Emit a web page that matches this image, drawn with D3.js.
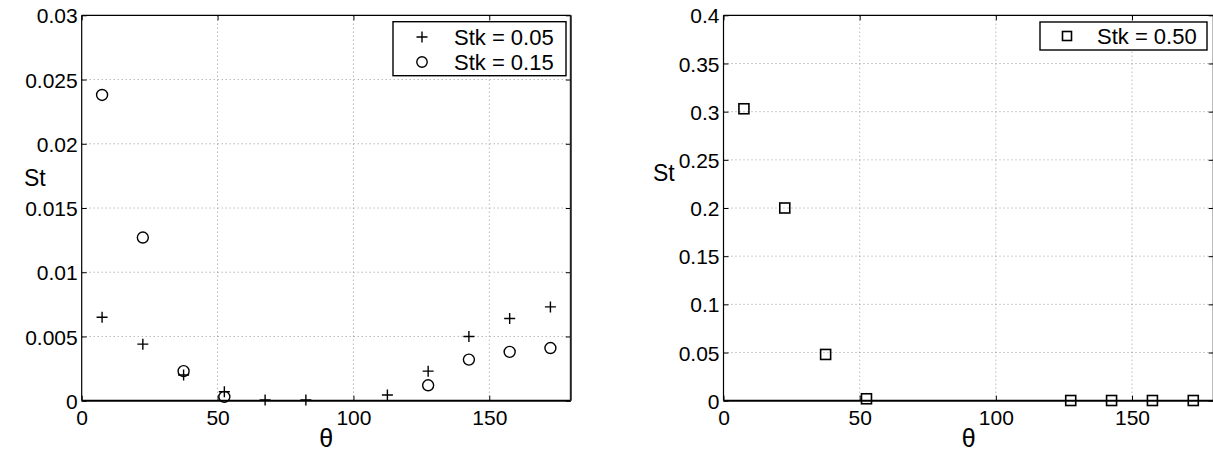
<!DOCTYPE html>
<html>
<head>
<meta charset="utf-8">
<script src="https://cdn.jsdelivr.net/npm/d3@7"></script>
<style>
  html, body { margin: 0; padding: 0; background: #fff; }
  svg { display: block; }
  text { font-family: "Liberation Sans", Arial, Helvetica, sans-serif; fill: #000; }
</style>
</head>
<body>
<svg id="fig" width="1213" height="453"></svg>
<script>
// Bin centres of the angular position (degrees)
const theta = [7.5, 22.5, 37.5, 52.5, 67.5, 82.5, 112.5, 127.5, 142.5, 157.5, 172.5];

// Stanton number, Stk = 0.05 (plus markers)
const stk005 = [0.0065, 0.0044, 0.0020, 0.0007, 0.00005, 0.00005, 0.00044, 0.0023, 0.0050, 0.0064, 0.0073];

// Stanton number, Stk = 0.15 (circle markers)
const theta015 = [7.5, 22.5, 37.5, 52.5, 127.5, 142.5, 157.5, 172.5];
const stk015 = [0.0238, 0.0127, 0.0023, 0.0003, 0.0012, 0.0032, 0.0038, 0.0041];

// Stanton number, Stk = 0.50 (square markers)
const theta050 = [7.5, 22.5, 37.5, 52.5, 127.5, 142.5, 157.5, 172.5];
const stk050 = [0.303, 0.200, 0.048, 0.002, 0.0002, 0.0002, 0.0002, 0.0002];

const xTicks = [0, 50, 100, 150];
const yTicksLeft = [0, 0.005, 0.01, 0.015, 0.02, 0.025, 0.03];
const yTicksRight = [0, 0.05, 0.1, 0.15, 0.2, 0.25, 0.3, 0.35, 0.4];
const yTickLabelsLeft = ["0", "0.005", "0.01", "0.015", "0.02", "0.025", "0.03"];
const yTickLabelsRight = ["0", "0.05", "0.1", "0.15", "0.2", "0.25", "0.3", "0.35", "0.4"];

const svg = d3.select("#fig");
const FONT = 21;

function panel(opts) {
  const x = d3.scaleLinear().domain([0, 180]).range([opts.left, opts.left + opts.width]);
  const y = d3.scaleLinear().domain(opts.yDomain).range([400.7, 15.3]);
  const g = svg.append("g");
  const [x0, x1] = x.range();
  const [y0, y1] = y.range();

  // dotted grid
  g.append("g").selectAll("line").data(xTicks.filter(t => t > 0)).join("line")
    .attr("x1", d => x(d)).attr("x2", d => x(d)).attr("y1", y0).attr("y2", y1)
    .attr("stroke", "#808080").attr("stroke-width", 0.8).attr("stroke-dasharray", "1,3");
  g.append("g").selectAll("line").data(opts.yTicks.filter(t => t > 0 && t < opts.yDomain[1])).join("line")
    .attr("x1", x0).attr("x2", x1).attr("y1", d => y(d)).attr("y2", d => y(d))
    .attr("stroke", "#808080").attr("stroke-width", 0.8).attr("stroke-dasharray", "1,3");

  // axes with inward ticks
  const tickLen = 5;
  const ax = d3.axisBottom(x).tickValues(xTicks).tickSizeInner(-tickLen).tickSizeOuter(0).tickPadding(9);
  const axB = g.append("g").attr("transform", `translate(0,${y0})`).call(ax);
  const ay = d3.axisLeft(y).tickValues(opts.yTicks).tickFormat((d, i) => opts.yLabels[i])
    .tickSizeInner(-tickLen).tickSizeOuter(0).tickPadding(4);
  const axL = g.append("g").attr("transform", `translate(${x0},0)`).call(ay);
  const axT = g.append("g").attr("transform", `translate(0,${y1})`)
    .call(d3.axisTop(x).tickValues(xTicks).tickSizeInner(-tickLen).tickSizeOuter(0).tickFormat(""));
  const axR = g.append("g").attr("transform", `translate(${x1},0)`)
    .call(d3.axisRight(y).tickValues(opts.yTicks).tickSizeInner(-tickLen).tickSizeOuter(0).tickFormat(""));
  [axB, axL, axT, axR].forEach(a => {
    a.select(".domain").remove();
    a.selectAll("line").attr("stroke", "#000").attr("stroke-width", 1);
    a.selectAll("text").attr("font-size", FONT).attr("font-family", "Liberation Sans, Arial, sans-serif").attr("fill", "#000");
  });
  axB.selectAll("text").attr("dy", "0.71em");
  axL.selectAll("text").attr("dy", "0.36em");

  // frame
  g.append("line").attr("x1", x0).attr("x2", x1).attr("y1", y1).attr("y2", y1).attr("stroke", "#000").attr("stroke-width", 1.2);
  g.append("line").attr("x1", x0).attr("x2", x0).attr("y1", y0).attr("y2", y1).attr("stroke", "#000").attr("stroke-width", 1.2);
  g.append("line").attr("x1", x0).attr("x2", x1).attr("y1", y0).attr("y2", y0).attr("stroke", "#000").attr("stroke-width", 2);
  g.append("line").attr("x1", x1).attr("x2", x1).attr("y1", y0).attr("y2", y1).attr("stroke", "#222").attr("stroke-width", 2);

  // axis titles
  g.append("text").attr("x", opts.stX).attr("y", opts.stY).attr("font-size", 23).text("St");
  g.append("text").attr("x", (x0 + x1) / 2).attr("y", 447).attr("text-anchor", "middle")
    .attr("font-size", 25).attr("font-family", "Liberation Serif, Times New Roman, serif").text("θ");

  return { g, x, y };
}

function plus(sel, cx, cy, s) {
  sel.append("path").attr("d", `M${cx - s},${cy}H${cx + s}M${cx},${cy - s}V${cy + s}`)
    .attr("stroke", "#000").attr("stroke-width", 1.4).attr("fill", "none");
}
function circle(sel, cx, cy, r) {
  sel.append("circle").attr("cx", cx).attr("cy", cy).attr("r", r)
    .attr("stroke", "#000").attr("stroke-width", 1.4).attr("fill", "none");
}
function square(sel, cx, cy, s) {
  sel.append("rect").attr("x", cx - s).attr("y", cy - s).attr("width", 2 * s).attr("height", 2 * s)
    .attr("stroke", "#000").attr("stroke-width", 1.6).attr("fill", "none");
}

// Left panel: Stk = 0.05 and 0.15
const L = panel({ left: 81.7, width: 489.1, yDomain: [0, 0.03], yTicks: yTicksLeft, yLabels: yTickLabelsLeft, stX: 24, stY: 186 });
const mL = L.g.append("g");
theta.forEach((t, i) => plus(mL, L.x(t), L.y(stk005[i]), 5.5));
theta015.forEach((t, i) => circle(mL, L.x(t), L.y(stk015[i]), 5.5));

const legL = L.g.append("g");
legL.append("rect").attr("x", 393).attr("y", 21.7).attr("width", 173).attr("height", 54)
  .attr("fill", "#fff").attr("stroke", "#000").attr("stroke-width", 1.4);
plus(legL, 422, 37, 5.5);
circle(legL, 422, 62, 5.2);
legL.append("text").attr("x", 454).attr("y", 37).attr("dy", "0.36em").attr("font-size", 22).text("Stk = 0.05");
legL.append("text").attr("x", 454).attr("y", 62).attr("dy", "0.36em").attr("font-size", 22).text("Stk = 0.15");

// Right panel: Stk = 0.50
const R = panel({ left: 723.5, width: 490.2, yDomain: [0, 0.4], yTicks: yTicksRight, yLabels: yTickLabelsRight, stX: 653, stY: 181 });
const mR = R.g.append("g");
theta050.forEach((t, i) => square(mR, R.x(t), R.y(stk050[i]), 5));

const legR = R.g.append("g");
legR.append("rect").attr("x", 1040).attr("y", 22).attr("width", 167).attr("height", 28)
  .attr("fill", "#fff").attr("stroke", "#000").attr("stroke-width", 1.4);
square(legR, 1067, 36, 4.5);
legR.append("text").attr("x", 1097).attr("y", 36).attr("dy", "0.36em").attr("font-size", 22).text("Stk = 0.50");
</script>
</body>
</html>
